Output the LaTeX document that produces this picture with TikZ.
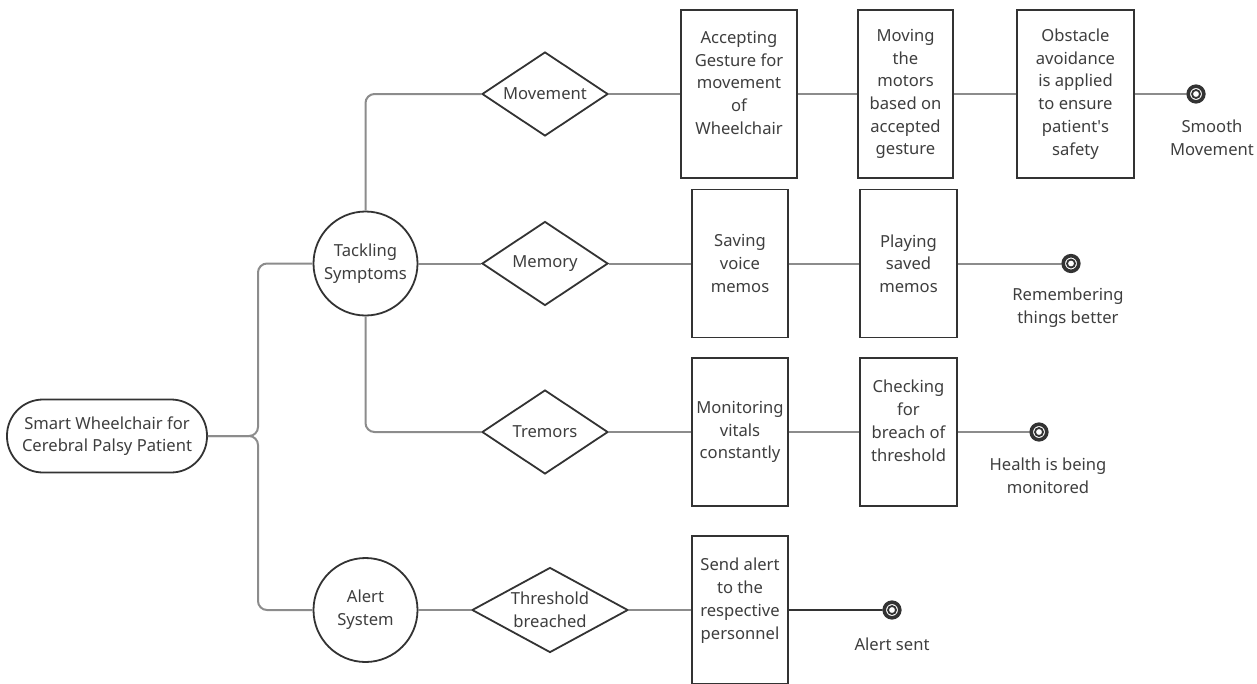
\documentclass[tikz,border=0pt]{standalone}
\usepackage{fontspec}
\setmainfont{Noto Sans}
\usetikzlibrary{shapes.geometric}
\definecolor{ink}{HTML}{333333}
\definecolor{txt}{HTML}{3E3E3E}
\definecolor{wire}{HTML}{8C8C8C}
\begin{document}
\begin{tikzpicture}[x=1pt,y=-1pt,
  every node/.style={font=\fontsize{16.6}{22.7}\selectfont, text=txt, align=center},
  outline/.style={draw=ink, line width=1.8pt, fill=white},
  stadium/.style={outline, rectangle, rounded corners=36pt, minimum width=200pt, minimum height=73pt, inner sep=0pt},
  hub/.style={outline, circle, minimum size=104pt, inner sep=0pt},
  choice/.style={outline, diamond, inner sep=0pt, minimum width=126pt, minimum height=84pt, aspect=1.5},
  stepbox/.style={outline, rectangle, inner sep=0pt},
  conn/.style={draw=wire, line width=2pt, rounded corners=9pt},
  endmark/.style={circle, inner sep=0pt, minimum size=0pt},
  endlabel/.style={inner sep=0pt}]
\useasboundingbox (0,0) rectangle (1257,683);

% root and the two hubs
\node[stadium] (root) at (107,436) {Smart Wheelchair for\\Cerebral Palsy Patient};
\node[hub] (tack) at (365.5,263.5) {Tackling\\Symptoms};
\node[hub] (alert) at (365.5,610) {Alert\\System};
\coordinate (junc) at (258,436);

% decisions
\node[choice] (mov) at (545,94) {Movement};
\node[choice] (mem) at (545,263.5) {Memory};
\node[choice] (trem) at (545,432) {Tremors};
\node[choice, minimum width=156pt, minimum height=85pt, aspect=1.84] (thr) at (550,610) {Threshold\\breached};

% movement row
\node[stepbox, minimum width=116pt, minimum height=168pt] (acc) at (739,94) {Accepting\\Gesture for\\movement\\of\\Wheelchair\\\mbox{}};
\node[stepbox, minimum width=95pt, minimum height=168pt] (motor) at (905.5,94) {Moving\\the\\motors\\based on\\accepted\\gesture};
\node[stepbox, minimum width=117pt, minimum height=168pt] (obst) at (1075.5,94) {Obstacle\\avoidance\\is applied\\to ensure\\patient\textquotesingle s\\safety};

% memory row
\node[stepbox, minimum width=96pt, minimum height=148pt] (save) at (740,263.5) {Saving\\voice\\memos};
\node[stepbox, minimum width=97pt, minimum height=148pt] (play) at (908.5,263.5) {Playing\\saved\\memos};

% tremors row
\node[stepbox, minimum width=96pt, minimum height=148pt] (moni) at (740,432) {Monitoring\\vitals\\constantly};
\node[stepbox, minimum width=97pt, minimum height=148pt] (check) at (908.5,432) {Checking\\for\\breach of\\threshold\\\mbox{}};

% alert row
\node[stepbox, minimum width=96pt, minimum height=148pt] (send) at (740,610) {Send alert\\to the\\respective\\personnel\\\mbox{}};

% end points
\node[endmark] (endA) at (1196,94) {};
\node[endmark] (endB) at (1071,263.5) {};
\node[endmark] (endC) at (1039,432) {};
\node[endmark] (endD) at (892,610) {};

\node[endlabel] (labA) at (1212,138) {Smooth\\Movement};
\node[endlabel] (labB) at (1068,308) {Remembering\\things better};
\node[endlabel] (labC) at (1048,476) {Health is being\\monitored};
\node[endlabel] (labD) at (892,644) {Alert sent};

% connectors
\draw[conn] (root.east) -- (junc) |- (tack.west);
\draw[conn] (root.east) -- (junc) |- (alert.west);
\draw[conn] (tack.north) |- (mov.west);
\draw[conn] (tack.south) |- (trem.west);
\draw[conn] (tack.east) -- (mem.west);
\draw[conn] (alert.east) -- (thr.west);
\draw[conn] (mov.east) -- (acc.west);
\draw[conn] (acc.east) -- (motor.west);
\draw[conn] (motor.east) -- (obst.west);
\draw[conn] (obst.east) -- (endA);
\draw[conn] (mem.east) -- (save.west);
\draw[conn] (save.east) -- (play.west);
\draw[conn] (play.east) -- (endB);
\draw[conn] (trem.east) -- (moni.west);
\draw[conn] (moni.east) -- (check.west);
\draw[conn] (check.east) -- (endC);
\draw[conn] (thr.east) -- (send.west);
\draw[conn, draw=ink] (send.east) -- (endD);

% end markers drawn over the wires
\foreach \e in {endA,endB,endC,endD}{
  \fill[white] (\e) circle (9.5);
  \draw[ink, line width=3.6pt] (\e) circle (7.8);
  \draw[ink, line width=1.8pt] (\e) circle (4);
}
\end{tikzpicture}
\end{document}
